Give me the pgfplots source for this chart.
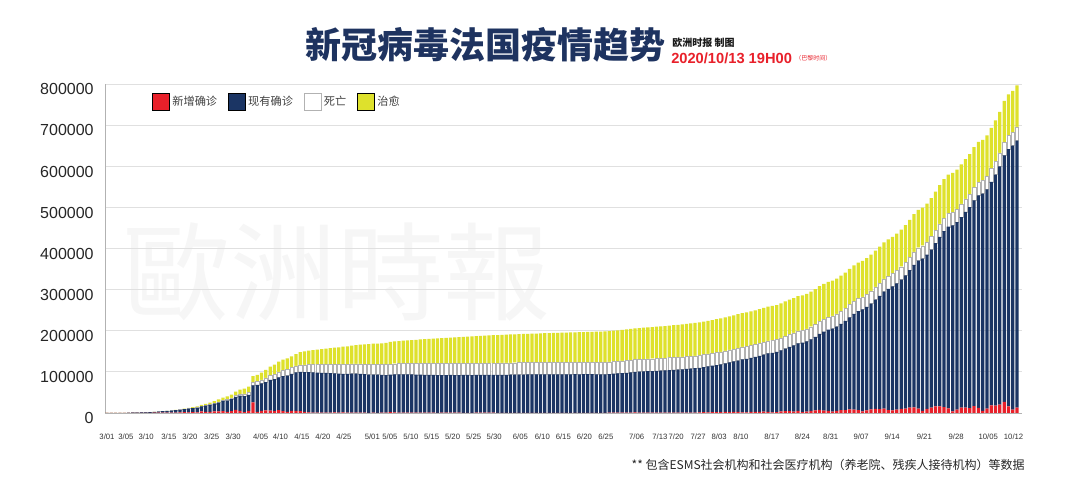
\documentclass[border=0pt]{standalone}
\usepackage{fontspec}
\setmainfont{Liberation Sans}
\newfontfamily\cjk{Noto Sans CJK SC}
\newfontfamily\cjktc{Noto Sans CJK TC}
\usepackage{pgfplots}
\usepackage{pgfplotstable}
\pgfplotsset{compat=1.18}
\definecolor{cred}{HTML}{E8202A}
\definecolor{cnavy}{HTML}{1B3564}
\definecolor{cyel}{HTML}{DEE12C}
\definecolor{ctitle}{HTML}{1E3360}
% values in thousands: r = new cases, n = active (navy), d = deaths, y = recovered
\pgfplotstableread{
x r n d y
0 0.03 0.09 0 0.01
1 0.06 0.12 0 0.01
2 0.02 0.18 0 0.01
3 0.07 0.20 0 0.01
4 0.14 0.26 0.01 0.01
5 0.23 0.40 0.01 0.01
6 0.30 0.62 0.01 0.01
7 0.26 0.92 0.02 0.01
8 0.20 1.17 0.03 0.01
9 0.37 1.35 0.03 0.03
10 0.50 1.70 0.05 0.03
11 0.60 2.17 0.06 0.05
12 0.79 2.72 0.08 0.07
13 0.81 3.48 0.09 0.09
14 0.91 4.04 0.13 0.3
15 1.19 4.73 0.15 0.5
16 1.08 5.69 0.18 0.7
17 1.39 6.49 0.26 0.9
18 1.83 7.47 0.37 1.2
19 1.74 8.82 0.45 1.6
20 1.85 9.85 0.56 2.2
21 1.56 11.19 0.67 2.6
22 3.84 12.26 0.86 2.9
23 2.45 15.45 1.10 3.3
24 2.93 17.07 1.33 3.9
25 3.92 18.64 1.70 4.9
26 3.81 21.46 1.99 5.7
27 4.61 24.66 2.31 6.0
28 2.60 27.76 2.61 7.2
29 4.38 29.25 3.02 7.9
30 7.58 31.63 3.52 9.4
31 4.86 37.10 4.03 11.0
32 2.12 39.20 5.39 12.4
33 5.23 38.60 6.51 14.0
34 25.6 41.39 7.56 15.4
35 2.89 65.67 8.08 16.2
36 5.17 66.63 8.91 17.3
37 6.5 68.87 10.33 19.3
38 5.5 75.23 10.87 21.3
39 4.8 77.49 12.21 23.2
40 7.1 79.7 13.20 24.9
41 4.8 84.67 13.83 26.4
42 2.9 88.11 14.39 27.2
43 5.3 89.93 14.97 27.7
44 5.4 93.37 15.73 28.8
45 4.6 95.18 17.17 30.95
46 2.6 96.68 17.92 32.8
47 1.8 97.32 18.68 34.0
48 1.2 97.48 19.32 35.0
49 1.2 96.68 19.72 36.6
50 1.2 96.53 20.27 37.4
51 1.1 96.6 20.80 38.0
52 1.1 95.96 21.34 39.2
53 1.3 95.04 21.86 40.7
54 0.9 94.55 22.25 42.1
55 1.7 93.69 22.61 43.5
56 0.7 94.64 22.86 44.0
57 1.0 95.01 23.29 44.6
58 1.2 94.74 23.66 45.5
59 1.1 94.11 24.09 46.9
60 0.8 93.62 24.38 48.2
61 0.5 92.91 24.59 49.5
62 0.9 92.54 24.76 50.2
63 0.5 92.9 24.9 50.6
64 0.6 92.3 25.2 51.4
65 1.1 91.27 25.53 52.7
66 2.2 90.89 25.81 53.9
67 1.4 92.41 25.99 54.4
68 0.8 92.97 26.23 55.0
69 0.7 93.19 26.31 55.5
70 0.7 93.12 26.38 56.2
71 0.7 93.06 26.64 56.7
72 0.8 92.31 26.99 57.8
73 0.9 92.13 27.07 58.7
74 0.8 91.77 27.43 59.6
75 0.8 91.67 27.53 60.4
76 0.6 91.87 27.63 60.9
77 0.5 91.89 28.11 61.0
78 0.6 91.56 28.24 61.7
79 0.6 91.52 28.28 62.3
80 0.7 91.77 28.33 62.6
81 0.6 91.63 28.37 63.4
82 0.6 91.68 28.42 63.9
83 0.5 91.94 28.46 64.2
84 0.5 92.0 28.50 64.6
85 0.5 91.87 28.53 65.2
86 0.6 91.8 28.60 65.7
87 0.6 91.84 28.66 66.2
88 0.7 91.79 28.71 66.8
89 0.6 91.95 28.75 67.3
90 0.6 92.03 28.77 67.8
91 0.4 92.3 28.8 68.1
92 0.4 92.47 28.83 68.3
93 0.4 92.5 28.9 68.6
94 0.5 92.64 28.96 68.8
95 0.5 92.78 29.02 69.1
96 0.5 93.03 29.07 69.3
97 0.4 93.2 29.1 69.6
98 0.3 93.35 29.15 69.8
99 0.3 93.4 29.2 70.0
100 0.3 93.34 29.26 70.3
101 0.4 93.4 29.3 70.5
102 0.4 93.47 29.33 70.8
103 0.4 93.55 29.35 71.1
104 0.3 93.73 29.37 71.3
105 0.3 93.71 29.39 71.6
106 0.3 93.79 29.41 71.8
107 0.3 93.75 29.45 72.1
108 0.4 93.8 29.5 72.3
109 0.3 93.95 29.55 72.5
110 0.3 93.9 29.6 72.8
111 0.3 93.98 29.62 73.0
112 0.3 93.95 29.65 73.3
113 0.3 93.92 29.68 73.6
114 0.3 93.88 29.72 73.9
115 0.3 93.85 29.75 74.2
116 0.3 93.82 29.78 74.5
117 0.9 93.9 29.8 74.7
118 0.9 94.58 29.82 74.9
119 0.9 95.26 29.84 75.1
120 1.1 95.85 29.85 75.4
121 1.0 96.73 29.87 75.6
122 1.2 97.52 29.88 75.8
123 1.4 98.5 29.9 76.0
124 0.8 99.63 29.92 76.25
125 0.8 100.16 29.94 76.5
126 0.9 100.69 29.96 76.75
127 0.7 101.32 29.98 77.0
128 0.8 101.76 29.99 77.25
129 0.8 102.3 30.0 77.5
130 0.9 102.76 30.04 77.8
131 1.1 103.32 30.08 78.1
132 0.9 103.98 30.12 78.5
133 0.9 104.55 30.15 78.8
134 1.2 105.14 30.16 79.1
135 1.2 106.03 30.17 79.4
136 1.2 106.92 30.18 79.7
137 1.1 107.91 30.19 79.9
138 1.3 108.7 30.2 80.2
139 1.9 109.78 30.22 80.4
140 1.8 111.46 30.24 80.6
141 1.9 113.04 30.26 80.8
142 2.0 114.62 30.28 81.1
143 2.0 116.4 30.3 81.3
144 2.6 118.19 30.31 81.5
145 2.4 120.48 30.32 81.8
146 2.6 122.67 30.33 82.0
147 2.6 124.96 30.34 82.3
148 1.4 128.75 30.35 82.5
149 1.6 129.98 30.36 82.66
150 2.5 131.41 30.38 82.81
151 2.7 133.74 30.39 82.97
152 2.8 136.26 30.41 83.13
153 3.3 138.89 30.42 83.29
154 2.9 142.02 30.44 83.44
155 1.6 144.75 30.45 83.6
156 2.2 146.17 30.46 83.77
157 3.8 148.18 30.48 83.94
158 4.8 151.8 30.49 84.11
159 4.6 156.4 30.51 84.29
160 3.6 160.82 30.52 84.46
161 4.9 164.23 30.54 84.63
162 1.9 168.95 30.55 84.8
163 3.3 170.67 30.56 84.97
164 5.4 173.78 30.58 85.14
165 6.1 179.0 30.59 85.31
166 7.4 184.9 30.61 85.49
167 5.5 192.12 30.62 85.66
168 5.0 197.43 30.64 85.83
169 3.1 202.25 30.65 86.0
170 5.0 205.12 30.67 86.21
171 7.0 209.88 30.69 86.43
172 7.2 216.65 30.71 86.64
173 9.0 223.6 30.74 86.86
174 8.5 232.37 30.76 87.07
175 7.1 240.63 30.78 87.29
176 4.2 247.5 30.8 87.5
177 6.5 251.38 30.83 87.79
178 8.6 257.57 30.86 88.07
179 9.8 265.85 30.89 88.36
180 9.4 275.35 30.91 88.64
181 10.6 284.43 30.94 88.93
182 7.2 294.72 30.97 89.21
183 6.2 301.6 31.0 89.5
184 7.9 307.31 31.06 89.93
185 9.8 314.73 31.11 90.36
186 10.6 324.04 31.17 90.79
187 13.2 334.16 31.23 91.21
188 13.5 346.87 31.29 91.64
189 10.6 359.89 31.34 92.07
190 5.3 370.0 31.4 92.5
191 10.0 374.81 31.46 92.93
192 13.1 384.33 31.51 93.36
193 16.1 396.94 31.57 93.79
194 15.8 412.56 31.63 94.21
195 14.4 427.87 31.69 94.64
196 11.1 441.79 31.74 95.07
197 4.1 452.4 31.8 95.5
198 8.0 456.0 31.87 95.93
199 12.8 463.5 31.94 96.36
200 13.0 475.8 32.01 96.79
201 12.1 488.3 32.09 97.21
202 17.0 499.9 32.16 97.64
203 12.6 516.4 32.23 98.07
204 5.1 528.5 32.3 98.5
205 10.5 533.21 32.38 98.81
206 18.7 543.32 32.45 99.13
207 18.1 561.63 32.53 99.44
208 20.3 579.35 32.6 99.75
209 26.9 599.26 32.68 100.06
210 16.1 625.77 32.75 100.38
211 8.5 641.48 32.83 100.69
212 13.0 649.6 32.9 101.0
}\datatab

\begin{document}
\begin{tikzpicture}
\useasboundingbox (0,0) rectangle (810pt,373.5pt);
% watermark
\node[text=black!3.5] at (252.75pt,169.5pt) {\cjktc\fontsize{80}{80}\selectfont 歐洲時報};
\begin{axis}[
  at={(78.75pt,63.75pt)}, anchor=south west,
  scale only axis, width=687.75pt, height=246.75pt,
  ybar stacked, bar width=0.76,
  xmin=-0.47, xmax=213.16, ymin=0, ymax=800,
  axis lines*=left,
  axis line style={draw=black!30, line width=0.6pt},
  ymajorgrids, grid style={draw=black!12, line width=0.6pt},
  major tick length=0pt,
  ytick={0,100,200,300,400,500,600,700,800},
  yticklabels={0,100000,200000,300000,400000,500000,600000,700000,800000},
  yticklabel style={font=\fontsize{12}{12}\selectfont, text=black!85, xshift=-5pt, yshift=-4pt},
  xtick={0,4.4,9.1,14.4,19.3,24.4,29.4,35.8,40.4,45.4,50.3,55.2,61.8,65.9,70.8,75.6,80.5,85.4,90.2,96.3,101.4,106.3,111.2,116.2,123.4,128.8,132.6,137.7,142.6,147.7,154.9,162.0,168.6,175.7,182.9,190.4,197.8,205.3,211.2},
  xticklabels={3/01,3/05,3/10,3/15,3/20,3/25,3/30,4/05,4/10,4/15,4/20,4/25,5/01,5/05,5/10,5/15,5/20,5/25,5/30,6/05,6/10,6/15,6/20,6/25,7/06,7/13,7/20,7/27,8/03,8/10,8/17,8/24,8/31,9/07,9/14,9/21,9/28,10/05,10/12},
  xticklabel style={font=\fontsize{5.8}{6}\selectfont, text=black!80, yshift=-12pt},
  legend image code/.code={\draw[#1,line width=0.5pt] (0pt,-6.4pt) rectangle (12.75pt,6.4pt);},
  legend style={at={(axis description cs:0.051,0.945)}, anchor=west, draw=none, fill=none,
    inner sep=0pt, legend columns=-1,
    font=\cjk\fontsize{8.4}{10}\selectfont, text=black!75,
    /tikz/every even column/.append style={column sep=6pt}},
]
\addplot[fill=cred, draw=none] table[x=x,y=r] {\datatab};
\addlegendentry{新增确诊}
\addplot[fill=cnavy, draw=none] table[x=x,y=n] {\datatab};
\addlegendentry{现有确诊}
\addplot[fill=white, draw=black!30, line width=0.3pt] table[x=x,y=d] {\datatab};
\addlegendentry{死亡}
\addplot[fill=cyel, draw=none] table[x=x,y=y] {\datatab};
\addlegendentry{治愈}
\end{axis}
% title block
\node[text=ctitle, anchor=center] at (363.75pt,339.75pt) {\cjk\bfseries\fontsize{27}{27}\selectfont 新冠病毒法国疫情趋势};
\node[anchor=west, inner sep=0pt, text=black!90] at (504pt,341.25pt) {\cjk\bfseries\fontsize{7.5}{8}\selectfont 欧洲时报 制图};
\node[anchor=west, inner sep=0pt, text=cred] at (503.25pt,330pt) {\bfseries\fontsize{11}{12}\selectfont 2020/10/13 19H00};
\node[anchor=west, inner sep=0pt, text=cred] at (596.25pt,330pt) {\cjk\fontsize{4.5}{5}\selectfont （巴黎时间）};
% footnote
\node[anchor=east, inner sep=0pt, text=black!85] at (768.75pt,24.75pt) {\cjk\fontsize{9}{10}\selectfont ** 包含ESMS社会机构和社会医疗机构（养老院、残疾人接待机构）等数据};
\end{tikzpicture}
\end{document}
